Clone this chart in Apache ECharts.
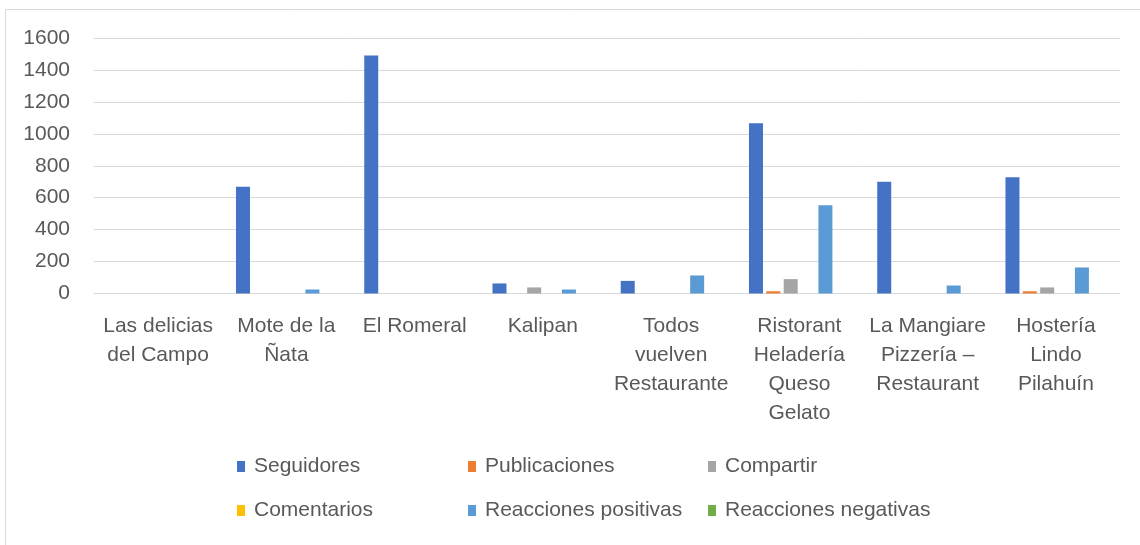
<!DOCTYPE html>
<html>
<head>
<meta charset="utf-8">
<script src="https://cdn.jsdelivr.net/npm/echarts@6/dist/echarts.min.js"></script>
<style>
  html, body { margin: 0; padding: 0; background: #ffffff; }
  #chart { width: 1140px; height: 545px; }
</style>
</head>
<body>
<div id="chart"></div>
<script>
// categorias (restaurantes)
const categories = [
  'Las delicias\ndel Campo',
  'Mote de la\nÑata',
  'El Romeral',
  'Kalipan',
  'Todos\nvuelven\nRestaurante',
  'Ristorant\nHeladería\nQueso\nGelato',
  'La Mangiare\nPizzería –\nRestaurant',
  'Hostería\nLindo\nPilahuín',
]
const seriesNames = [
  'Seguidores',
  'Publicaciones',
  'Compartir',
  'Comentarios',
  'Reacciones positivas',
  'Reacciones negativas',
]
const seguidores = [0, 668, 1490, 63, 79, 1066, 700, 728]
const publicaciones = [0, 0, 0, 0, 0, 14, 0, 14]
const compartir = [0, 0, 0, 38, 0, 90, 0, 38]
const comentarios = [0, 0, 0, 0, 0, 0, 0, 0]
const reaccionesPositivas = [0, 25, 0, 25, 113, 553, 50, 163]
const reaccionesNegativas = [0, 0, 0, 0, 0, 0, 0, 0]
const yTicks = [0, 200, 400, 600, 800, 1000, 1200, 1400, 1600]

const colors = ['#4472C4', '#ED7D31', '#A5A5A5', '#FFC000', '#5B9BD5', '#70AD47']
const seriesData = [
  seguidores,
  publicaciones,
  compartir,
  comentarios,
  reaccionesPositivas,
  reaccionesNegativas,
]

const font = 'Liberation Sans, Arial, sans-serif'
const textColor = '#595959'

// leyenda: una por elemento para fijar las columnas
const legendPos = [
  [237, 456],
  [468, 456],
  [708, 456],
  [237, 500],
  [468, 500],
  [708, 500],
]

const chart = echarts.init(document.getElementById('chart'))

const option = {
  animation: false,
  color: colors,
  graphic: [
    {
      type: 'rect',
      shape: { x: 5.5, y: 9.5, width: 1140, height: 545 },
      style: { fill: 'none', stroke: '#d9d9d9', lineWidth: 1 },
      silent: true,
    },
  ],
  grid: {
    left: 94,
    right: 20,
    top: 38,
    bottom: 251.5,
    containLabel: false,
  },
  legend: seriesNames.map((name, i) => ({
    data: [name],
    left: legendPos[i][0],
    top: legendPos[i][1],
    icon: 'rect',
    itemWidth: 8,
    itemHeight: 11,
    itemGap: 0,
    padding: 0,
    selectedMode: false,
    textStyle: {
      fontFamily: font,
      fontSize: 21,
      color: textColor,
      padding: [0, 0, 0, 4],
    },
  })),
  xAxis: {
    type: 'category',
    data: categories,
    axisLine: { show: true, lineStyle: { color: '#d9d9d9', width: 1 } },
    axisTick: { show: false },
    axisLabel: {
      interval: 0,
      margin: 18,
      fontFamily: font,
      fontSize: 21,
      lineHeight: 29,
      color: textColor,
      align: 'center',
      verticalAlign: 'top',
    },
  },
  yAxis: {
    type: 'value',
    min: yTicks[0],
    max: yTicks[yTicks.length - 1],
    interval: yTicks[1] - yTicks[0],
    axisLine: { show: false },
    axisTick: { show: false },
    axisLabel: {
      margin: 24,
      fontFamily: font,
      fontSize: 21,
      color: textColor,
      formatter: v => String(v),
    },
    splitLine: { lineStyle: { color: '#d9d9d9', width: 1 } },
  },
  series: seriesNames.map((name, i) => ({
    name: name,
    type: 'bar',
    data: seriesData[i],
    barWidth: 14,
    barGap: '24%',
    itemStyle: { color: colors[i] },
  })),
}

chart.setOption(option)
</script>
</body>
</html>
